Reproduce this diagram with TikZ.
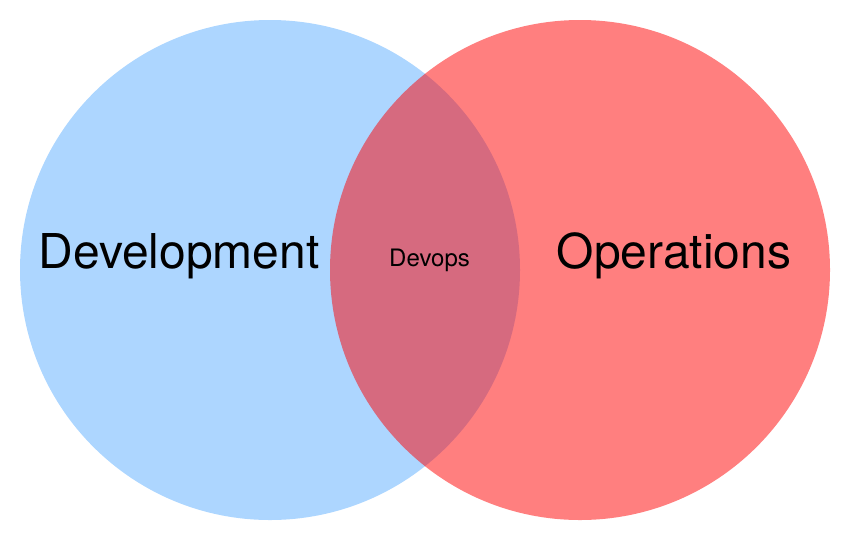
\documentclass[tikz,border=0pt]{standalone}
\usepackage{fontspec}
\setmainfont{TeX Gyre Heros}
\usepackage{tikz}

\begin{document}
\begin{tikzpicture}[x=1pt,y=1pt,yscale=-1,xscale=1,
    setlabel/.style={anchor=base,inner sep=0.75pt,font=\fontsize{48}{52}\selectfont},
    meetlabel/.style={anchor=base,inner sep=0.75pt,font=\fontsize{24}{27}\selectfont}]
    \useasboundingbox (0,0) rectangle (851,542); %diagram is 851 wide and 542 high
    
    %Shape: Circle [id:devcircle] 
    \fill [color={rgb, 255:red, 173; green, 214; blue, 255 }] (270,270) circle (250);
    %Shape: Circle [id:opscircle] 
    \fill [color={rgb, 255:red, 255; green, 0; blue, 0 }, fill opacity=0.5] (580,270) circle (250);
    
    % Text Node
    \node [setlabel] (dev) at (179,268) {Development};
    % Text Node
    \node [setlabel] (ops) at (674,268) {Operations};
    % Text Node
    \node [meetlabel] (devops) at (429.5,266) {Devops};
\end{tikzpicture}
\end{document}
